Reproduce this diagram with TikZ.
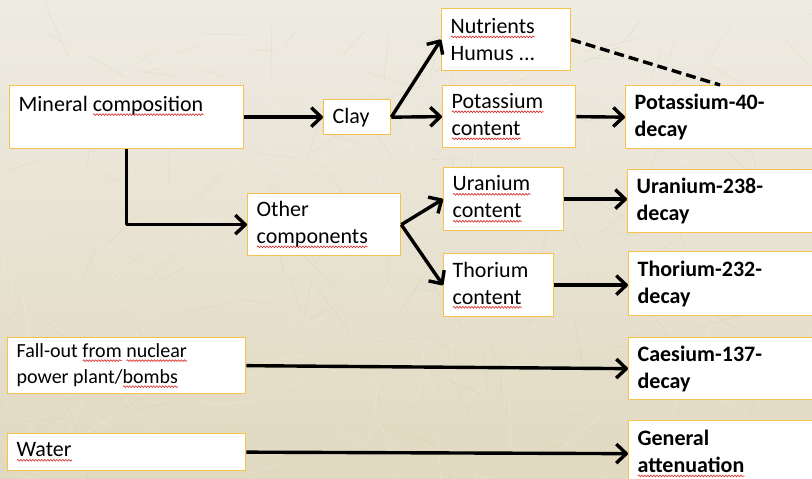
\documentclass[tikz,border=0pt]{standalone}
\usepackage{fontspec}
\setmainfont{Carlito}
\usetikzlibrary{arrows.meta,decorations.pathmorphing}
\definecolor{boxc}{RGB}{245,195,75}
\definecolor{bgtop}{RGB}{238,235,227}
\definecolor{bgbot}{RGB}{225,217,192}
\definecolor{strawc}{RGB}{205,190,150}
\definecolor{sqc}{RGB}{215,40,40}
\newsavebox\sqbox
\newcommand\sq[1]{\leavevmode\sbox\sqbox{#1}\rlap{\raisebox{-4.5pt}{\tikz[x=1pt,y=1pt]\draw[sqc,line width=0.6pt,decorate,decoration={snake,amplitude=0.9pt,segment length=3pt}] (0,0) -- (\wd\sqbox,0);}}\usebox\sqbox}
\tikzset{
  box/.style={draw=boxc, line width=1.3pt, fill=white, anchor=north west,
    inner xsep=9pt, inner ysep=0pt, align=flush left, font=\fontsize{22}{27}\selectfont},
  bbox/.style={box, font=\fontsize{22}{27}\selectfont\bfseries},
  arr/.style={line width=3.4pt, line join=round, -{Straight Barb[length=10pt,width=19pt,line join=round]}},
  dsh/.style={line width=3.4pt, dash pattern=on 10pt off 5pt},
  straw/.style={line width=0.7pt, opacity=0.2}
}
\begin{document}
\begin{tikzpicture}[x=1pt,y=-1pt]
\useasboundingbox (0,0) rectangle (812,479);
\clip (0,0) rectangle (812,479);
\shade[top color=bgtop, bottom color=bgbot] (0,0) rectangle (812,479);
% faint grass texture
\pgfmathsetseed{7}
\foreach \i in {1,...,320}{
  \pgfmathsetmacro\sx{rnd*812}
  \pgfmathsetmacro\sy{rnd*479}
  \pgfmathsetmacro\sa{rnd*180}
  \pgfmathsetmacro\sl{15+rnd*45}
  \pgfmathsetmacro\sc{rnd>0.5 ? 1 : 0}
  \ifdim\sc pt>0.5pt
    \draw[straw, white] (\sx,\sy) -- ++(\sa:\sl);
  \else
    \draw[straw, strawc] (\sx,\sy) -- ++(\sa:\sl);
  \fi
}
% left column
\node[box, text width=216pt, minimum height=63pt] (mineral) at (9,85) {Mineral \sq{composition}\\\mbox{}};
\node[box, text width=49pt, minimum height=35pt] (clay) at (323,99) {Clay};
\node[box, text width=135pt, minimum height=62pt] (other) at (247,193) {Other\\\sq{components}};
% middle column
\node[box, text width=111pt, minimum height=62pt] (nutrients) at (441,8) {\sq{Nutrients}\\Humus ...};
\node[box, text width=115pt, minimum height=62pt] (potassium) at (442,85) {\sq{Potassium}\\\sq{content}};
\node[box, text width=102pt, minimum height=63pt] (uranium) at (443,167) {\sq{Uranium}\\\sq{content}};
\node[box, text width=92pt, minimum height=63pt] (thorium) at (443,253) {Thorium\\\sq{content}};
% right column
\node[bbox, text width=187pt, minimum height=63pt] (k40) at (625,85) {Potassium-40-\\decay};
\node[bbox, text width=185pt, minimum height=63pt] (u238) at (627,169) {Uranium-238-\\decay};
\node[bbox, text width=184pt, minimum height=64pt] (th232) at (628,251) {Thorium-232-\\decay};
\node[bbox, text width=184pt, minimum height=62pt] (cs137) at (628,337) {Caesium-137-\\decay};
\node[bbox, text width=184pt, minimum height=66pt] (general) at (628,420) {General\\\sq{attenuation}};
% bottom left
\node[box, text width=220pt, minimum height=56pt, font=\fontsize{20}{26}\selectfont] (fallout) at (7,337) {Fall-out \sq{from} \sq{nuclear}\\power plant/\sq{bombs}};
\node[box, text width=220pt, minimum height=37pt] (water) at (7,433) {\sq{Water}};
% connectors
\draw[arr] (mineral.east) -- (clay.west);
\draw[arr] (clay.east) -- (nutrients.west);
\draw[arr] (clay.east) -- (potassium.west);
\draw[arr] (mineral.south) |- (other.west);
\draw[arr] (other.east) -- (uranium.west);
\draw[arr] (other.east) -- (thorium.west);
\draw[arr] (potassium.east) -- (k40.west);
\draw[arr] (uranium.east) -- (uranium.east -| u238.west);
\draw[arr] (thorium.east) -- (thorium.east -| th232.west);
\draw[arr] (fallout.east) -- (cs137.west);
\draw[arr] (water.east) -- (general.west);
\draw[dsh] (nutrients.east) -- ([xshift=95pt]k40.north west);
\end{tikzpicture}
\end{document}
